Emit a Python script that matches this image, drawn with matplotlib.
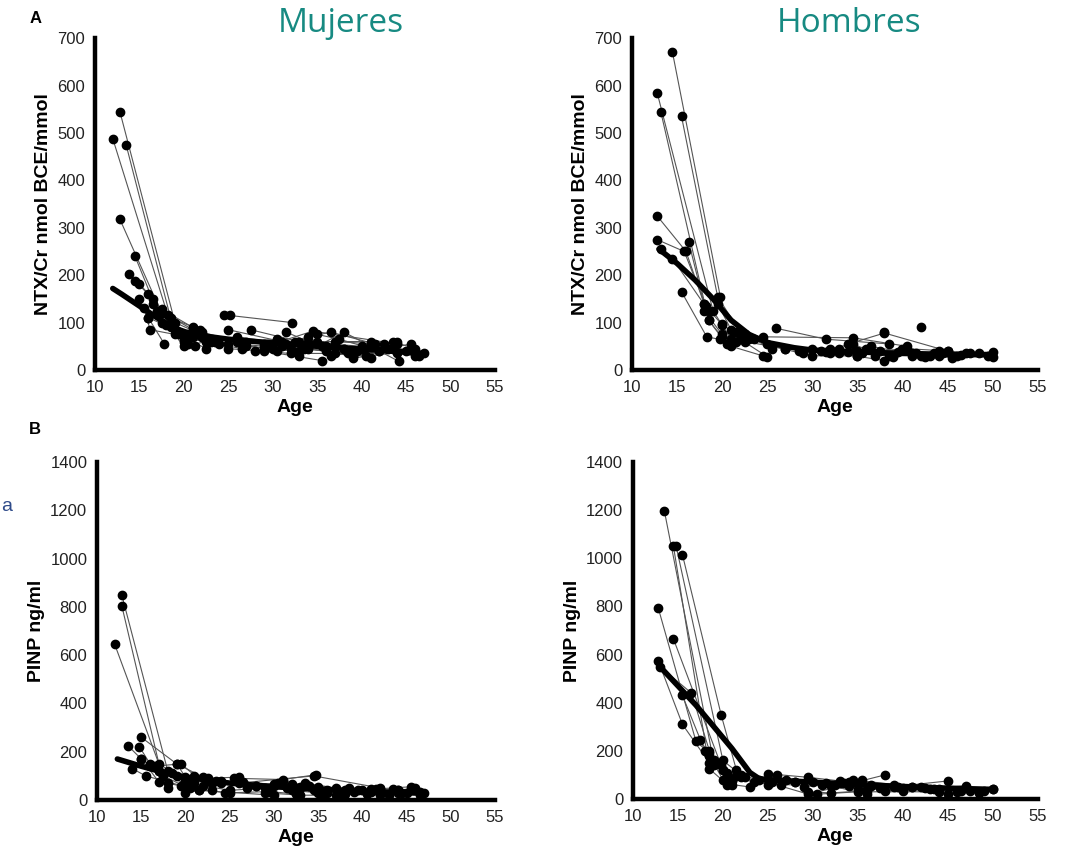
import matplotlib.pyplot as plt

plt.rcParams['font.family'] = ['Liberation Sans', 'DejaVu Sans']

ages = [10, 15, 20, 25, 30, 35, 40, 45, 50, 55]

# A - Mujeres, NTX/Cr (each inner list is one subject followed over time)
ntx_f_age = [[12.0, 18.2, 21.5], [12.8, 19.0, 22.0], [13.5, 18.5, 21.8], [12.8, 17.5, 20.5],
             [14.5, 17.0, 20.0], [13.8, 16.5, 19.5], [14.5, 16.0, 20.5], [15.0, 17.5, 21.0],
             [15.0, 16.0, 17.8], [15.5, 16.2, 19.0], [16.5, 19.5, 22.5], [17.0, 20.0, 23.0],
             [21.0, 22.0, 26.0], [24.5, 25.2, 32.2], [25.0, 31.0, 37.0], [27.5, 33.0, 40.0],
             [25.0, 29.0, 35.5], [26.0, 31.5, 38.0], [28.0, 32.0, 44.0], [30.0, 34.5, 44.0],
             [31.5, 34.0, 41.0], [29.5, 36.5, 43.5], [33.0, 38.0, 44.2], [34.0, 39.0, 45.5],
             [35.0, 37.5, 42.0], [36.0, 40.0, 46.0], [37.0, 41.5, 47.0], [32.0, 38.5, 44.0],
             [22.0, 27.0, 30.5], [20.0, 23.5, 29.0], [18.0, 21.5, 25.0], [35.5, 39.0, 45.0],
             [30.5, 33.5, 40.5], [38.0, 42.5, 46.5], [19.0, 21.0, 24.0], [20.5, 22.5, 26.5],
             [16.0, 18.5, 21.2], [17.5, 19.5, 22.0], [29.0, 31.0, 35.0], [32.5, 36.0, 39.5],
             [34.0, 37.0, 43.0], [39.0, 42.0, 45.5], [41.0, 43.5, 46.0], [36.5, 38.5, 41.0],
             [27.0, 30.0, 33.0], [23.0, 26.5, 29.0]]
ntx_f_val = [[488, 115, 80], [545, 100, 75], [475, 110, 85], [318, 120, 70],
             [240, 125, 60], [203, 150, 80], [188, 160, 55], [182, 128, 90],
             [150, 110, 55], [130, 85, 75], [140, 75, 45], [120, 50, 62],
             [88, 80, 60], [115, 115, 100], [85, 60, 55], [85, 60, 50],
             [45, 40, 20], [70, 55, 45], [40, 35, 35], [55, 82, 55],
             [80, 60, 60], [50, 80, 45], [30, 80, 18], [45, 30, 55],
             [75, 65, 40], [40, 45, 30], [60, 55, 35], [45, 40, 60],
             [70, 60, 65], [65, 60, 50], [95, 75, 55], [50, 25, 40],
             [40, 45, 30], [45, 55, 30], [85, 70, 55], [75, 60, 45],
             [110, 90, 50], [100, 80, 70], [55, 50, 60], [60, 50, 40],
             [70, 35, 45], [30, 40, 45], [50, 60, 45], [30, 35, 25],
             [50, 45, 40], [60, 55, 45]]
ntx_f_fit_age = [12, 13, 15, 17, 19, 21, 25, 30, 35, 40, 45, 47]
ntx_f_fit_val = [172, 160, 135, 110, 88, 75, 65, 57, 50, 44, 38, 35]

# A - Hombres, NTX/Cr
ntx_m_age = [[14.5, 19.8], [12.8, 19.0, 21.0], [13.2, 18.5, 20.5], [15.5, 19.5, 22.0],
             [12.8, 16.0, 18.0], [12.8, 15.8, 18.2], [13.2, 14.5, 18.5], [16.3, 18.0, 20.0],
             [15.5, 18.3, 21.0], [18.5, 20.0, 22.5], [19.8, 21.0, 24.5], [20.0, 22.0, 25.0],
             [21.5, 23.5, 25.5], [26.0, 31.5, 38.5], [24.5, 34.5, 40.5], [38.0], [42.0],
             [25.5, 30.0, 35.0], [28.5, 33.0, 38.0], [30.0, 35.0, 39.0], [31.5, 36.5, 42.0],
             [33.0, 38.5, 43.5], [35.5, 40.0, 45.5], [37.0, 41.0, 47.5], [39.0, 44.5, 50.0],
             [40.5, 45.0, 49.5], [43.0, 47.0, 50.0], [34.0, 38.0, 45.0], [22.5, 27.0, 32.0],
             [19.5, 21.0, 23.0], [18.0, 20.0, 21.5], [23.0, 25.0, 27.0], [29.0, 31.0, 34.0],
             [32.0, 34.5, 37.0], [35.0, 37.5, 41.0], [41.5, 44.0, 46.5], [44.0, 46.0, 48.5],
             [36.0, 39.5, 42.5]]
ntx_m_val = [[670, 155], [585, 125, 65], [545, 105, 55], [535, 155, 80],
             [325, 250, 140], [275, 250, 135], [255, 235, 125], [270, 140, 95],
             [165, 70, 60], [105, 70, 75], [65, 50, 30], [98, 65, 28],
             [80, 65, 45], [88, 65, 55], [70, 68, 50], [80], [90],
             [50, 30, 30], [40, 35, 20], [45, 40, 28], [38, 50, 30],
             [45, 30, 35], [35, 45, 25], [30, 35, 35], [30, 35, 38],
             [45, 40, 30], [30, 35, 28], [55, 78, 40], [60, 45, 35],
             [140, 85, 65], [125, 75, 60], [70, 55, 45], [35, 40, 38],
             [45, 55, 35], [30, 40, 30], [35, 30, 32], [40, 30, 35],
             [45, 38, 28]]
ntx_m_fit_age = [13, 15, 17, 19, 21, 23, 25, 28, 30, 35, 40, 45, 50]
ntx_m_fit_val = [255, 225, 190, 150, 105, 75, 58, 47, 42, 38, 35, 33, 32]

# B - Mujeres, PINP
pinp_f_age = [[12.0, 17.5, 20.0], [12.8, 18.0, 21.0], [12.8, 17.0, 20.0], [13.5, 15.0, 17.0],
              [15.0, 19.0, 22.0], [14.8, 16.0, 18.0], [14.0, 15.5, 19.5], [15.0, 17.0, 21.5],
              [16.5, 19.5, 23.0], [19.0, 20.0, 24.0], [21.0, 22.5, 26.0], [20.0, 21.5, 30.0],
              [24.0, 28.0, 33.0], [25.5, 31.0, 34.8], [26.0, 34.5, 42.0], [27.0, 32.0, 38.0],
              [29.0, 33.0, 37.0], [30.0, 35.0, 41.0], [31.0, 36.0, 43.5], [32.0, 35.0, 45.5],
              [33.0, 38.0, 44.0], [34.5, 39.0, 46.5], [36.0, 41.5, 47.0], [37.5, 42.0, 45.0],
              [22.0, 25.0, 29.0], [18.0, 20.5, 24.5], [40.0, 44.5, 46.5], [16.0, 18.5, 21.0],
              [17.0, 19.0, 22.5], [20.5, 23.0, 27.0], [23.5, 26.5, 30.0], [28.0, 30.5, 34.0],
              [31.5, 34.0, 39.5], [33.5, 37.0, 41.0], [38.5, 41.0, 44.0], [42.0, 44.0, 46.0],
              [35.5, 40.5, 43.0], [25.0, 29.5, 32.5]]
pinp_f_val = [[645, 100, 55], [850, 120, 70], [805, 150, 80], [225, 170, 75],
              [260, 150, 95], [220, 150, 50], [130, 100, 60], [170, 120, 40],
              [140, 150, 40], [150, 95, 80], [100, 90, 95], [30, 40, 20],
              [70, 60, 55], [90, 85, 105], [70, 100, 50], [50, 65, 40],
              [30, 20, 20], [60, 55, 40], [80, 40, 45], [40, 30, 55],
              [50, 25, 30], [40, 35, 35], [30, 45, 30], [25, 20, 30],
              [60, 40, 50], [70, 50, 30], [40, 30, 20], [140, 110, 90],
              [120, 100, 80], [80, 70, 60], [80, 75, 65], [60, 70, 60],
              [50, 60, 40], [70, 50, 45], [50, 35, 40], [45, 40, 50],
              [20, 25, 20], [30, 35, 25]]
pinp_f_fit_age = [12.3, 15, 18, 20, 25, 30, 35, 40, 45, 47]
pinp_f_fit_val = [170, 140, 110, 95, 70, 55, 45, 35, 30, 28]

# B - Hombres, PINP
pinp_m_age = [[13.5, 19.0, 21.0], [14.5, 18.5, 20.5], [14.8, 20.0, 22.0], [15.5, 19.8, 21.5],
              [12.8, 17.0, 18.5], [14.5, 19.8, 21.0], [12.8, 15.5, 18.5], [15.5, 18.0, 20.5],
              [13.0, 16.5, 19.0], [17.5, 18.5, 20.0], [20.0, 21.5, 25.0], [21.0, 23.0, 26.0],
              [25.0, 29.5, 33.0], [24.0, 29.5, 38.0], [25.5, 31.0, 35.5], [26.5, 32.0, 36.0],
              [29.0, 34.5, 39.0], [30.0, 36.0, 41.0], [32.5, 37.5, 45.0], [34.0, 40.0, 47.0],
              [35.0, 42.0, 50.0], [38.0, 43.5, 48.5], [41.0, 45.0, 49.0], [27.0, 33.5, 44.0],
              [30.5, 35.0, 46.0], [19.0, 20.0, 22.0], [18.5, 20.5, 23.5], [22.5, 25.0, 28.0],
              [28.0, 31.5, 34.0], [33.0, 36.5, 39.5], [36.5, 39.0, 42.5], [40.0, 43.0, 46.5],
              [44.0, 47.5, 50.0], [29.5, 32.0, 36.0]]
pinp_m_val = [[1195, 150, 80], [1050, 125, 60], [1050, 160, 100], [1015, 350, 120],
              [795, 240, 190], [665, 140, 75], [575, 310, 150], [430, 200, 110],
              [550, 440, 140], [245, 180, 80], [120, 95, 60], [60, 50, 100],
              [105, 90, 75], [80, 20, 100], [70, 60, 80], [60, 55, 20],
              [50, 80, 60], [70, 40, 50], [60, 45, 75], [55, 35, 55],
              [40, 50, 40], [35, 40, 25], [50, 20, 35], [80, 65, 30],
              [20, 30, 30], [160, 120, 90], [200, 100, 70], [90, 80, 70],
              [70, 65, 70], [65, 55, 50], [60, 50, 45], [45, 40, 35],
              [40, 35, 40], [30, 25, 35]]
pinp_m_fit_age = [13, 15, 17, 19, 21, 23, 24, 25, 30, 35, 40, 45, 50]
pinp_m_fit_val = [550, 470, 390, 300, 210, 110, 85, 80, 70, 60, 52, 45, 40]

fig = plt.figure(figsize=(10.71, 8.51), dpi=100)

panels = [
    ([0.0887, 0.5652, 0.3735, 0.390], ntx_f_age, ntx_f_val, ntx_f_fit_age, ntx_f_fit_val,
     700, range(0, 701, 100), 'NTX/Cr nmol BCE/mmol'),
    ([0.590, 0.5652, 0.379, 0.390], ntx_m_age, ntx_m_val, ntx_m_fit_age, ntx_m_fit_val,
     700, range(0, 701, 100), 'NTX/Cr nmol BCE/mmol'),
    ([0.0906, 0.0599, 0.3716, 0.397], pinp_f_age, pinp_f_val, pinp_f_fit_age, pinp_f_fit_val,
     1400, range(0, 1401, 200), 'PINP ng/ml'),
    ([0.591, 0.0611, 0.378, 0.396], pinp_m_age, pinp_m_val, pinp_m_fit_age, pinp_m_fit_val,
     1400, range(0, 1401, 200), 'PINP ng/ml'),
]

for rect, sa, sv, fa, fv, ymax, yt, ylab in panels:
    ax = fig.add_axes(rect)
    for a, v in zip(sa, sv):
        ax.plot(a, v, '-', color='#555555', lw=0.8, zorder=2)
        ax.plot(a, v, 'o', color='black', ms=6, zorder=3)
    ax.plot(fa, fv, '-', color='black', lw=4, solid_capstyle='round', zorder=4)
    ax.set_xlim(10, 55)
    ax.set_ylim(0, ymax)
    ax.set_xticks(ages)
    ax.set_yticks(list(yt))
    ax.tick_params(length=0, labelsize=12, labelcolor='#222222', pad=7)
    for s in ['top', 'right']:
        ax.spines[s].set_visible(False)
    for s in ['left', 'bottom']:
        ax.spines[s].set_linewidth(3.2)
    ax.set_xlabel('Age', fontsize=14, fontweight='bold', labelpad=3)
    ax.set_ylabel(ylab, fontsize=14, fontweight='bold', labelpad=4)

fig.text(0.318, 0.972, 'Mujeres', fontsize=24, color='#178a82', family='Open Sans',
         ha='center', va='center')
fig.text(0.793, 0.972, 'Hombres', fontsize=24, color='#178a82', family='Open Sans',
         ha='center', va='center')
fig.text(0.033, 0.978, 'A', fontsize=12, fontweight='bold', ha='center', va='center')
fig.text(0.033, 0.495, 'B', fontsize=12, fontweight='bold', ha='center', va='center')
fig.text(0.001, 0.405, 'a', fontsize=14, color='#2f4b8a', ha='left', va='center')

fig.savefig('out.png', dpi=100)
